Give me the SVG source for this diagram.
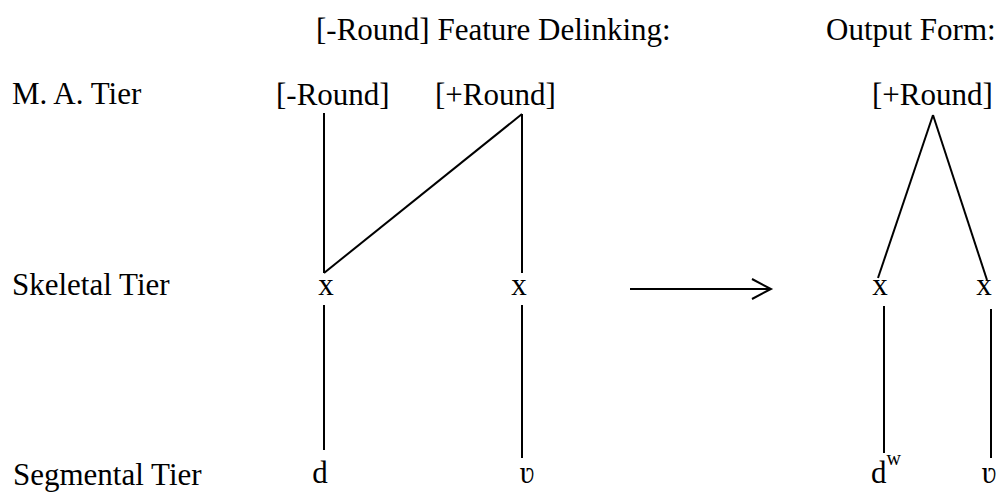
<svg xmlns="http://www.w3.org/2000/svg" width="1003" height="492" viewBox="0 0 1003 492">
<style>
text{font-family:"Liberation Serif","Times New Roman",serif;font-size:31px;fill:#000}
.sup{font-size:20px}
line,polyline{stroke:#000;stroke-width:2;fill:none}
</style>
<rect width="1003" height="492" fill="#fff"/>
<g id="titles">
<text x="316" y="40">[-Round] Feature Delinking:</text>
<text x="826" y="40">Output Form:</text>
</g>
<g id="tier-labels">
<text x="12" y="104">M. A. Tier</text>
<text x="12" y="295">Skeletal Tier</text>
<text x="13" y="485">Segmental Tier</text>
</g>
<g id="node-minus-round"><text x="276" y="105">[-Round]</text></g>
<g id="node-plus-round"><text x="435" y="105">[+Round]</text></g>
<g id="node-x1"><text x="326" y="295" text-anchor="middle">x</text></g>
<g id="node-x2"><text x="519" y="295" text-anchor="middle">x</text></g>
<g id="node-d"><text x="320" y="483" text-anchor="middle">d</text></g>
<g id="node-u"><text x="527" y="483" text-anchor="middle">ʋ</text></g>
<g id="node-out-plus-round"><text x="872" y="105">[+Round]</text></g>
<g id="node-out-x1"><text x="880" y="295" text-anchor="middle">x</text></g>
<g id="node-out-x2"><text x="984" y="295" text-anchor="middle">x</text></g>
<g id="node-out-dw"><text x="871" y="483">d<tspan class="sup" dy="-18">w</tspan></text></g>
<g id="node-out-u"><text x="989" y="483" text-anchor="middle">ʋ</text></g>
<g id="connectors">
<line x1="324" y1="113" x2="324" y2="273"/>
<line x1="324" y1="273" x2="522" y2="114"/>
<line x1="522" y1="114" x2="522" y2="273"/>
<line x1="324" y1="305" x2="324" y2="450"/>
<line x1="522" y1="305" x2="522" y2="458"/>
<line x1="630" y1="289" x2="770" y2="289"/>
<polyline points="752,279 771,289 752,299"/>
<line x1="933" y1="115" x2="878" y2="278"/>
<line x1="933" y1="115" x2="987" y2="280"/>
<line x1="884" y1="306" x2="884" y2="453"/>
<line x1="991" y1="309" x2="991" y2="458"/>
</g>
</svg>
